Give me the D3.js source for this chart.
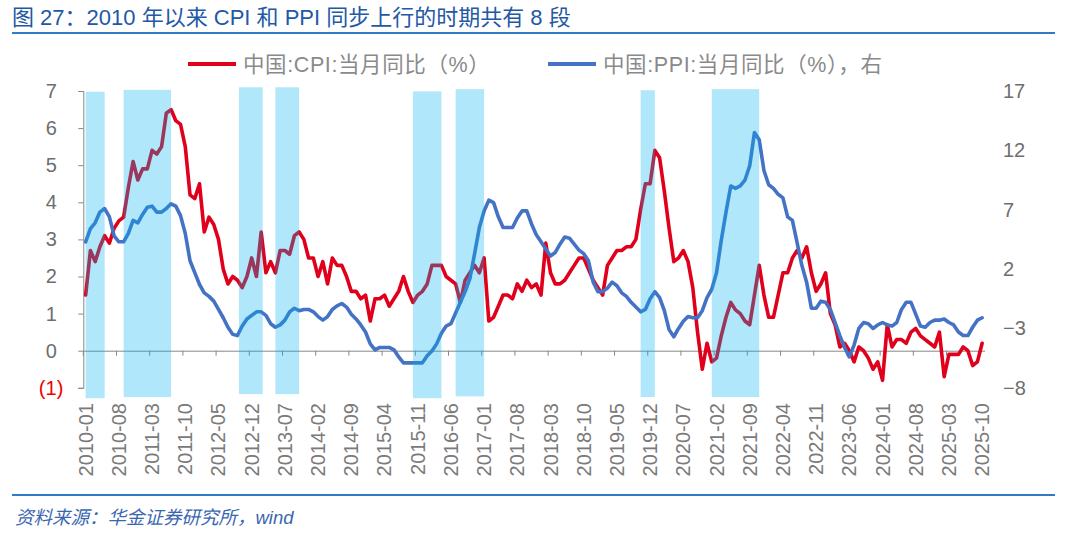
<!DOCTYPE html>
<html><head><meta charset="utf-8">
<script src="https://cdn.jsdelivr.net/npm/d3@7"></script>
<style>
html,body{margin:0;padding:0;background:#fff;}
svg{display:block;font-family:"Liberation Sans",Arial,"Noto Sans CJK SC",sans-serif;}
</style></head><body>
<svg id="chart" width="1080" height="537"></svg>
<script>
// CPI YoY (%) 2010-01 .. 2025-10
const cpi = [
 1.5,2.7,2.4,2.8,3.1,2.9,3.3,3.5,3.6,4.4,5.1,4.6,
 4.9,4.9,5.4,5.3,5.5,6.4,6.5,6.2,6.1,5.5,4.2,4.1,
 4.5,3.2,3.6,3.4,3.0,2.2,1.8,2.0,1.9,1.7,2.0,2.5,
 2.0,3.2,2.1,2.4,2.1,2.7,2.7,2.6,3.1,3.2,3.0,2.5,
 2.5,2.0,2.4,1.8,2.5,2.3,2.3,2.0,1.6,1.6,1.4,1.5,
 0.8,1.4,1.4,1.5,1.2,1.4,1.6,2.0,1.6,1.3,1.5,1.6,
 1.8,2.3,2.3,2.3,2.0,1.9,1.8,1.3,1.9,2.1,2.3,2.1,
 2.5,0.8,0.9,1.2,1.5,1.5,1.4,1.8,1.6,1.9,1.7,1.8,
 1.5,2.9,2.1,1.8,1.8,1.9,2.1,2.3,2.5,2.5,2.2,1.9,
 1.7,1.5,2.3,2.5,2.7,2.7,2.8,2.8,3.0,3.8,4.5,4.5,
 5.4,5.2,4.3,3.3,2.4,2.5,2.7,2.4,1.7,0.5,-0.5,0.2,
 -0.3,-0.2,0.4,0.9,1.3,1.1,1.0,0.8,0.7,1.5,2.3,1.5,
 0.9,0.9,1.5,2.1,2.1,2.5,2.7,2.5,2.8,2.1,1.6,1.8,
 2.1,1.0,0.7,0.1,0.2,0.0,-0.3,0.1,0.0,-0.2,-0.5,-0.3,
 -0.8,0.7,0.1,0.3,0.3,0.2,0.5,0.6,0.4,0.3,0.2,0.1,
 0.5,-0.7,-0.1,-0.1,-0.1,0.1,0.0,-0.4,-0.3,0.2
];
// PPI YoY (%) 2010-01 .. 2025-10 (right axis)
const ppi = [
 4.3,5.4,5.9,6.8,7.1,6.4,4.8,4.3,4.3,5.0,6.1,5.9,
 6.6,7.2,7.3,6.8,6.8,7.1,7.5,7.3,6.5,5.0,2.7,1.7,
 0.7,0.0,-0.3,-0.7,-1.4,-2.1,-2.9,-3.5,-3.6,-2.8,-2.2,-1.9,
 -1.6,-1.6,-1.9,-2.6,-2.9,-2.7,-2.3,-1.6,-1.3,-1.5,-1.4,-1.4,
 -1.6,-2.0,-2.3,-2.0,-1.4,-1.1,-0.9,-1.2,-1.8,-2.2,-2.7,-3.3,
 -4.3,-4.8,-4.6,-4.6,-4.6,-4.8,-5.4,-5.9,-5.9,-5.9,-5.9,-5.9,
 -5.3,-4.9,-4.3,-3.4,-2.8,-2.6,-1.7,-0.8,0.1,1.2,3.3,5.5,
 6.9,7.8,7.6,6.4,5.5,5.5,5.5,6.3,6.9,6.9,5.8,4.9,
 4.3,3.7,3.1,3.4,4.1,4.7,4.6,4.1,3.6,3.3,2.7,0.9,
 0.1,0.1,0.4,0.9,0.6,0.0,-0.3,-0.8,-1.2,-1.6,-1.4,-0.5,
 0.1,-0.4,-1.5,-3.1,-3.7,-3.0,-2.4,-2.0,-2.1,-2.1,-1.5,-0.4,
 0.3,1.7,4.4,6.8,9.0,8.8,9.0,9.5,10.7,13.5,12.9,10.3,
 9.1,8.8,8.3,8.0,6.4,6.1,4.2,2.3,0.9,-1.3,-1.3,-0.7,
 -0.8,-1.4,-2.5,-3.6,-4.6,-5.4,-4.4,-3.0,-2.5,-2.6,-3.0,-2.7,
 -2.5,-2.7,-2.8,-2.5,-1.4,-0.8,-0.8,-1.8,-2.8,-2.9,-2.5,-2.3,
 -2.3,-2.2,-2.5,-2.7,-3.3,-3.6,-3.6,-2.9,-2.3,-2.1
];
const months = d3.timeMonth.range(new Date(2010,0,1), new Date(2025,10,1)).map(d3.timeFormat("%Y-%m"));
const tickLabels = ["2010-01","2010-08","2011-03","2011-10","2012-05","2012-12","2013-07","2014-02","2014-09","2015-04","2015-11","2016-06","2017-01","2017-08","2018-03","2018-10","2019-05","2019-12","2020-07","2021-02","2021-09","2022-04","2022-11","2023-06","2024-01","2024-08","2025-03","2025-10"];
const leftTicks = [7,6,5,4,3,2,1,0,-1];
const rightTicks = [17,12,7,2,-3,-8];
// periods where CPI and PPI rise together (8 shaded periods)
const shadeStart = ["2010-01","2010-09","2012-09","2013-05","2015-10","2016-07","2019-10","2021-01"];
const shadeEnd   = ["2010-05","2011-07","2013-02","2013-10","2016-04","2017-01","2020-01","2021-11"];
const shadeTop    = [6.98,7.03,7.1,7.1,6.99,7.05,7.02,7.05];
const shadeBottom = [-1.28,-1.25,-1.17,-1.17,-1.28,-1.23,-1.25,-1.25];

const titleText = "图 27：2010 年以来 CPI 和 PPI 同步上行的时期共有 8 段";
const legendNames = ["中国:CPI:当月同比（%）","中国:PPI:当月同比（%），右"];
const sourceText = "资料来源：华金证券研究所，wind";

const svg = d3.select("#chart");
const X0 = 83.3, X1 = 984.5, YT = 91, YB = 387.8;
const x = d3.scaleBand().domain(months).range([X0, X1]).paddingInner(0).paddingOuter(0);
const bw = x.bandwidth();
const cx = m => x(m) + bw/2;
const yL = d3.scaleLinear().domain([-1,7]).range([YB, YT]);
const yR = d3.scaleLinear().domain([-8,17]).range([YB, YT]);
const axisCol = "#878787", labCol = "#7a7a7a";
const red = "#E0001B", blue = "#4472C4";

// title & rules
svg.append("text").attr("x",12).attr("y",25).attr("font-size",22).attr("fill","#2358A5").text(titleText);
svg.append("rect").attr("x",12).attr("y",32).attr("width",1043).attr("height",2).attr("fill","#2F7BC4");
svg.append("rect").attr("x",12).attr("y",494).attr("width",1043).attr("height",2).attr("fill","#2F7BC4");
svg.append("text").attr("x",15).attr("y",524).attr("font-size",18.5).attr("font-style","italic").attr("fill","#3A66B0").text(sourceText);

// x axis at zero
const gx = svg.append("g").attr("transform",`translate(0,${yL(0)})`)
  .call(d3.axisBottom(x).tickValues(tickLabels).tickSizeInner(5).tickSizeOuter(0));
gx.select(".domain").attr("stroke",axisCol);
gx.selectAll(".tick line").attr("stroke",axisCol).attr("x1",-bw/2).attr("x2",-bw/2);
gx.selectAll(".tick text").attr("transform","rotate(-90)").attr("text-anchor","end")
  .attr("x",-(403 - yL(0))).attr("y",0).attr("dy","0.35em")
  .attr("font-size",20).attr("fill",labCol).attr("font-family",null);

// left axis
const gl = svg.append("g").attr("transform",`translate(${X0},0)`)
  .call(d3.axisLeft(yL).tickValues(leftTicks).tickSize(5).tickPadding(15)
    .tickFormat(d => d < 0 ? `(${-d})` : d));
gl.select(".domain").attr("stroke",axisCol);
gl.selectAll(".tick line").attr("stroke",axisCol);
gl.selectAll(".tick text").attr("font-size",20).attr("font-family",null)
  .attr("fill", d => d < 0 ? "#F00000" : "#6e6e6e")
  .attr("x", d => d < 0 ? -20 : -26.5);

// right axis
const gr = svg.append("g").attr("transform",`translate(${X1},0)`)
  .call(d3.axisRight(yR).tickValues(rightTicks).tickSize(0).tickPadding(18.5));
gr.select(".domain").remove();
gr.selectAll(".tick text").attr("font-size",20).attr("font-family",null).attr("fill","#6e6e6e");

// lines
const lineL = d3.line().x((d,i)=>cx(months[i])).y(d=>yL(d));
const lineR = d3.line().x((d,i)=>cx(months[i])).y(d=>yR(d));
svg.append("path").attr("d",lineL(cpi)).attr("fill","none").attr("stroke",red).attr("stroke-width",3.6).attr("stroke-linejoin","round").attr("stroke-linecap","round");
svg.append("path").attr("d",lineR(ppi)).attr("fill","none").attr("stroke",blue).attr("stroke-width",3.6).attr("stroke-linejoin","round").attr("stroke-linecap","round");

// shaded periods
svg.append("g").selectAll("rect").data(shadeStart).join("rect")
  .attr("x", (d,i)=>cx(d) + (i===2 ? 1.5 : 0))
  .attr("width", (d,i)=>cx(shadeEnd[i]) - cx(d))
  .attr("y", (d,i)=>yL(shadeTop[i]))
  .attr("height", (d,i)=>yL(shadeBottom[i]) - yL(shadeTop[i]))
  .attr("fill","#00B0F0").attr("opacity",0.31);

// legend
const lg = svg.append("g");
const legX = [188, 548], legCol = [red, blue];
legendNames.forEach((n,i)=>{
  lg.append("line").attr("x1",legX[i]).attr("x2",legX[i]+48).attr("y1",64).attr("y2",64)
    .attr("stroke",legCol[i]).attr("stroke-width",4);
  lg.append("text").attr("x",legX[i]+55).attr("y",71.5).attr("font-size",21.5)
    .attr("letter-spacing",0.6).attr("fill","#8a8a8a").text(n);
});
</script>
</body></html>
